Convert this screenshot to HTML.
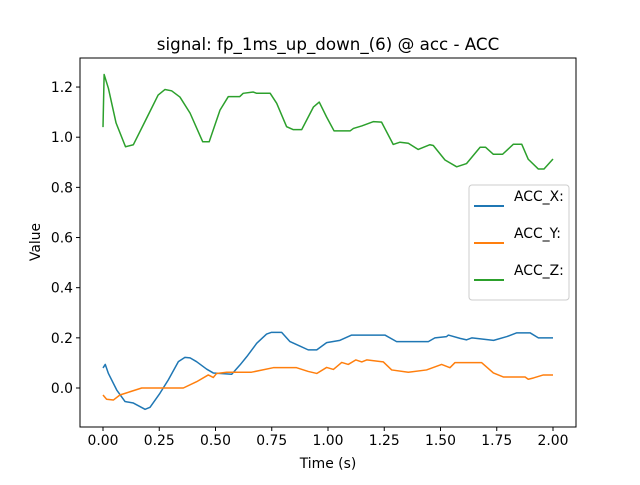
<!DOCTYPE html>
<html><head><meta charset="utf-8"><style>
body{margin:0;background:#fff;}
svg text{font-family:"DejaVu Sans","Liberation Sans",sans-serif;fill:#000;}
</style></head><body>
<svg id="chart" width="640" height="480" viewBox="0 0 640 480" xmlns="http://www.w3.org/2000/svg">
<rect width="640" height="480" fill="#fff"/>
<text x="328" y="50" font-size="16.7" text-anchor="middle">signal: fp_1ms_up_down_(6) @ acc - ACC</text>
<g id="plot"></g>
<rect x="80" y="58" width="496" height="369" fill="none" stroke="#000" stroke-width="1"/>
<text x="328" y="468" font-size="13.9" text-anchor="middle">Time (s)</text>
<text x="0" y="0" font-size="13.9" text-anchor="middle" transform="translate(40,242) rotate(-90)">Value</text>
<g>
<rect x="469" y="185" width="100" height="115" rx="3" fill="#fff" stroke="#ccc" stroke-width="1" fill-opacity="0.8"/>
<line x1="474" y1="206" x2="504" y2="206" stroke="#1f77b4" stroke-width="2"/>
<text x="514" y="201" font-size="13.9">ACC_X:</text>
<line x1="474" y1="243" x2="504" y2="243" stroke="#ff7f0e" stroke-width="2"/>
<text x="514" y="238" font-size="13.9">ACC_Y:</text>
<line x1="474" y1="280" x2="504" y2="280" stroke="#2ca02c" stroke-width="2"/>
<text x="514" y="275" font-size="13.9">ACC_Z:</text>
</g>
</svg>
<script>
const xTicks=[0,0.25,0.5,0.75,1.0,1.25,1.5,1.75,2.0];
const xTickLabels=["0.00","0.25","0.50","0.75","1.00","1.25","1.50","1.75","2.00"];
const yTicks=[0,0.2,0.4,0.6,0.8,1.0,1.2];
const yTickLabels=["0.0","0.2","0.4","0.6","0.8","1.0","1.2"];
const accXT=[0,0.01,0.024,0.061,0.098,0.135,0.187,0.209,0.253,0.29,0.335,0.364,0.387,0.416,0.461,0.49,0.572,0.609,0.639,0.683,0.727,0.749,0.794,0.831,0.875,0.912,0.95,0.994,1.053,1.105,1.253,1.305,1.446,1.475,1.527,1.535,1.587,1.616,1.64,1.736,1.795,1.839,1.898,1.935,2.0];
const accXV=[0.08,0.094,0.058,-0.008,-0.054,-0.06,-0.085,-0.077,-0.021,0.032,0.105,0.122,0.12,0.105,0.075,0.06,0.055,0.092,0.125,0.178,0.215,0.222,0.222,0.185,0.167,0.152,0.152,0.181,0.19,0.211,0.211,0.185,0.185,0.2,0.205,0.211,0.198,0.192,0.2,0.19,0.205,0.22,0.22,0.2,0.2];
const accYT=[0,0.016,0.046,0.075,0.12,0.172,0.357,0.416,0.468,0.49,0.505,0.55,0.66,0.757,0.86,0.912,0.95,0.994,1.024,1.061,1.09,1.124,1.15,1.172,1.246,1.283,1.357,1.438,1.505,1.542,1.564,1.683,1.735,1.779,1.876,1.89,1.913,1.957,2.0];
const accYV=[-0.028,-0.045,-0.048,-0.028,-0.015,0,0,0.025,0.052,0.042,0.058,0.063,0.063,0.081,0.081,0.066,0.058,0.082,0.074,0.102,0.094,0.112,0.104,0.112,0.104,0.072,0.063,0.072,0.094,0.081,0.101,0.101,0.06,0.044,0.044,0.035,0.04,0.052,0.052];
const accZT=[0,0.005,0.024,0.058,0.10,0.135,0.194,0.245,0.275,0.305,0.342,0.387,0.443,0.472,0.52,0.557,0.608,0.623,0.668,0.683,0.743,0.772,0.816,0.846,0.883,0.935,0.961,0.994,1.027,1.098,1.113,1.15,1.201,1.238,1.29,1.32,1.357,1.401,1.453,1.468,1.52,1.572,1.616,1.676,1.70,1.735,1.776,1.824,1.861,1.89,1.935,1.96,2.0];
const accZV=[1.04,1.25,1.195,1.057,0.962,0.97,1.076,1.168,1.19,1.185,1.16,1.096,0.982,0.982,1.108,1.162,1.162,1.175,1.18,1.175,1.175,1.135,1.042,1.03,1.03,1.12,1.14,1.08,1.025,1.025,1.035,1.045,1.062,1.06,0.971,0.98,0.976,0.951,0.97,0.967,0.909,0.882,0.895,0.96,0.96,0.932,0.932,0.972,0.972,0.912,0.873,0.873,0.913];
const NS="http://www.w3.org/2000/svg";
const xS=t=>103+t*225;
const yS=v=>388-v*250.8;
const g=document.getElementById('plot');
function mk(tag,attrs){const e=document.createElementNS(NS,tag);for(const k in attrs)e.setAttribute(k,attrs[k]);return e;}
xTicks.forEach((t,i)=>{
  const l=mk('line',{x1:xS(t),x2:xS(t),y1:427,y2:431,stroke:'#000'});
  
  
  g.appendChild(l);
  const tx=mk('text',{x:xS(t),y:445,'font-size':13.9,'text-anchor':'middle'});
  
  
  tx.textContent=xTickLabels[i];g.appendChild(tx);
});
yTicks.forEach((v,i)=>{
  const l=mk('line',{x1:76,x2:80,y1:yS(v),y2:yS(v),stroke:'#000'});
  
  
  g.appendChild(l);
  const tx=mk('text',{x:73,y:yS(v)+5,'font-size':13.9,'text-anchor':'end'});
  
  
  tx.textContent=yTickLabels[i];g.appendChild(tx);
});
function series(T,V,color,name){
  const p=mk('polyline',{points:T.map((t,i)=>xS(t)+','+yS(V[i])).join(' '),fill:'none',stroke:color,'stroke-width':1.5,'stroke-linejoin':'round'});
  
  
  g.appendChild(p);
}
series(accXT,accXV,'#1f77b4','acc-x-line');
series(accYT,accYV,'#ff7f0e','acc-y-line');
series(accZT,accZV,'#2ca02c','acc-z-line');
</script>
</body></html>
